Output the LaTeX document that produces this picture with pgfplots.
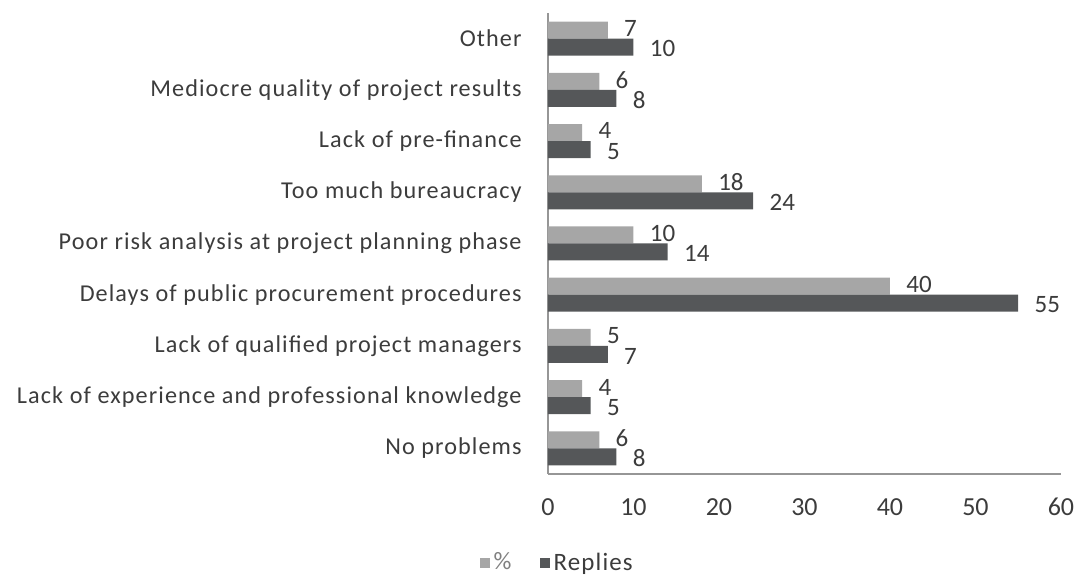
\documentclass[border=0pt]{standalone}
\usepackage{pgfplots}
\pgfplotsset{compat=1.18}
\usepackage{fontspec}
\setmainfont{Carlito}
\newfontfamily\catfont[LetterSpace=4.5]{Carlito}
\definecolor{pctcol}{RGB}{166,166,166}
\definecolor{repcol}{RGB}{85,87,89}
\definecolor{txtcol}{RGB}{60,60,60}
\definecolor{axcol}{RGB}{150,150,150}
\begin{document}
\begin{tikzpicture}
\path[use as bounding box] (-274pt,-51pt) rectangle (265pt,237pt);
\begin{axis}[
  scale only axis,
  width=256.5pt, height=230.5pt,
  xmin=0, xmax=60, ymin=-0.5, ymax=8.5,
  axis lines*=left,
  axis line style={draw=axcol, line width=0.8pt},
  xbar, bar width=8.5pt,
  xtick={0,10,...,60},
  ytick={0,1,...,8},
  yticklabels={No problems, Lack of experience and professional knowledge, Lack of qualified project managers, Delays of public procurement procedures, Poor risk analysis at project planning phase, Too much bureaucracy, Lack of pre-finance, Mediocre quality of project results, Other},
  major tick length=0pt,
  /pgf/number format/assume math mode=true,
  tick label style={text=txtcol},
  yticklabel style={anchor=east, inner sep=0pt, xshift=-13pt, font=\catfont\fontsize{12.1}{14}\selectfont},
  xticklabel style={anchor=north, inner sep=0pt, yshift=-12pt, font=\fontsize{13}{15}\selectfont},
  nodes near coords,
  point meta=x,
  every node near coord/.append style={anchor=west, inner sep=0pt, xshift=8pt, font=\fontsize{12.5}{14}\selectfont, text=txtcol},
  legend columns=2,
  legend style={at={(0.02,-0.193)}, anchor=center, draw=none, fill=none, font=\catfont\fontsize{12.5}{14}\selectfont, text=txtcol, /tikz/every even column/.append style={column sep=12pt}},
  legend image code/.code={\fill[#1] (0pt,-2.5pt) rectangle (5pt,2.5pt);},
]
\addplot[fill=pctcol, draw=none, bar shift=4.25pt,
  every node near coord/.append style={yshift=0.8pt}] coordinates {
  (6,0) (4,1) (5,2) (40,3) (10,4) (18,5) (4,6) (6,7) (7,8)};
\addlegendentry{\textcolor{gray}{\%}}
\addplot[fill=repcol, draw=none, bar shift=-4.25pt,
  every node near coord/.append style={yshift=-0.8pt}] coordinates {
  (8,0) (5,1) (7,2) (55,3) (14,4) (24,5) (5,6) (8,7) (10,8)};
\addlegendentry{Replies}
\end{axis}
\end{tikzpicture}
\end{document}
